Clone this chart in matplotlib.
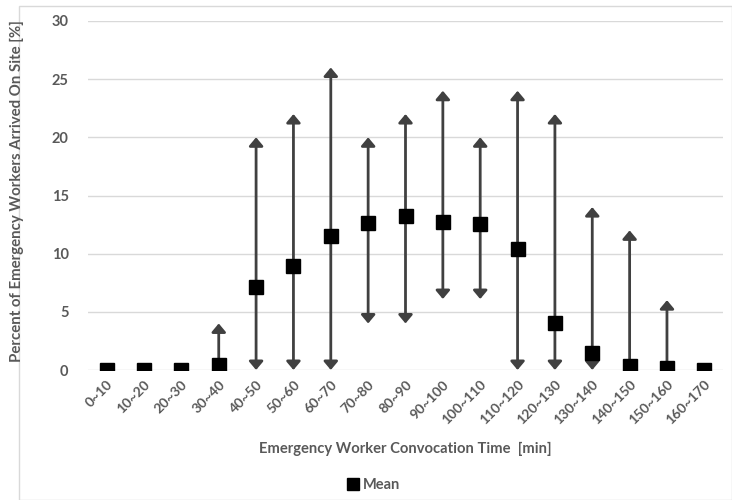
import matplotlib
matplotlib.use("Agg")
import matplotlib.pyplot as plt
from matplotlib.patches import Rectangle
import numpy as np

categories = ['0~10', '10~20', '20~30', '30~40', '40~50', '50~60', '60~70', '70~80',
              '80~90', '90~100', '100~110', '110~120', '120~130', '130~140',
              '140~150', '150~160', '160~170']
mean_vals = [0, 0, 0, 0.4, 7.1, 8.9, 11.5, 12.6, 13.2, 12.7, 12.55, 10.4, 4.0, 1.5, 0.35, 0.2, 0]
upper_vals = [0, 0, 0, 4.0, 20, 22, 26, 20, 22, 24, 20, 24, 22, 14, 12, 6.0, 0]
lower_vals = [0, 0, 0, 0.4, 0, 0, 0, 4.0, 4.0, 6.1, 6.1, 0, 0, 0, 0.35, 0.2, 0]
y_ticks = [0, 5, 10, 15, 20, 25, 30]

plt.rcParams['font.family'] = ['Lato', 'DejaVu Sans']
txt = '#595959'

fig = plt.figure(figsize=(7.32, 5.0), dpi=100)
fig.patches.append(Rectangle((19/732, 0.0), (732-19)/732, 1 - 6/500, transform=fig.transFigure,
                             fill=False, edgecolor='#d9d9d9', linewidth=1.0))
ax = fig.add_axes([88/732, 1 - 370/500, (723-88)/732, (370-21)/500])

x = np.arange(len(categories))
arrow_col = '#404040'
for xi, m, u, l in zip(x, mean_vals, upper_vals, lower_vals):
    for end in (u, l):
        if abs(end - m) > 1e-9:
            ax.annotate('', xy=(xi, end), xytext=(xi, m),
                        arrowprops=dict(arrowstyle='-|>,head_length=0.5,head_width=0.42',
                                        color=arrow_col, lw=2.0, shrinkA=0, shrinkB=0),
                        zorder=2)

ax.plot(x, mean_vals, linestyle='none', marker='s', markersize=10, color='black',
        zorder=3, label='Mean')

ax.set_xlim(-0.5, len(categories) - 0.5)
ax.set_ylim(0, 30)
ax.set_yticks(y_ticks)
ax.set_yticklabels([str(v) for v in y_ticks], fontsize=10.5, fontweight='bold', color=txt)
ax.set_xticks(x)
ax.set_xticklabels(categories, rotation=45, ha='right', rotation_mode='anchor',
                   fontsize=10, fontweight='bold', color=txt)
ax.tick_params(axis='both', length=0, pad=6)
ax.tick_params(axis='y', pad=14)
ax.grid(axis='y', color='#d9d9d9', linewidth=1.0)
ax.set_axisbelow(True)
for s in ax.spines.values():
    s.set_visible(False)

fig.text(405/732, 1 - 449/500, 'Emergency Worker Convocation Time  [min]', ha='center', va='center',
         fontsize=10.6, fontweight='bold', color=txt)
fig.text(17/732, 1 - 191/500, 'Percent of Emergency Workers Arrived On Site [%]', ha='center',
         va='center', rotation=90, fontsize=10.8, fontweight='bold', color=txt)

handles, labels = ax.get_legend_handles_labels()
leg = fig.legend(handles, labels, loc='center', bbox_to_anchor=(374/732, 1 - 485/500), frameon=False,
                 handlelength=0.7, handletextpad=0.3, prop={'weight': 'bold', 'size': 10.5})
for t in leg.get_texts():
    t.set_color(txt)
for h in leg.legend_handles:
    h.set_markersize(8.5)

fig.savefig('out.png', dpi=100)
